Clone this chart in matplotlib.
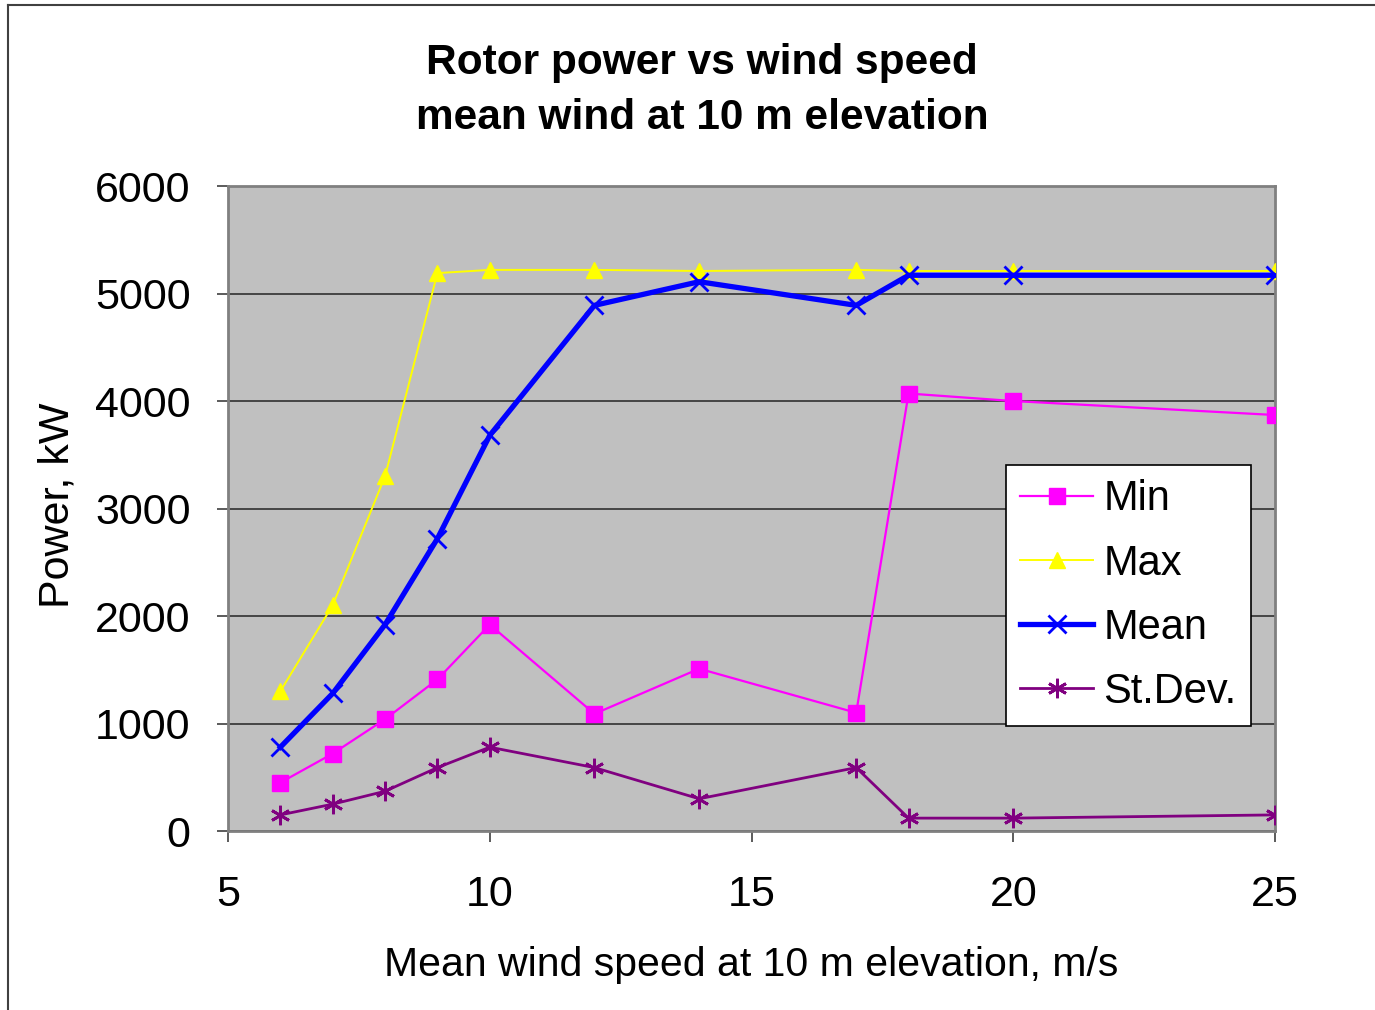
import matplotlib.pyplot as plt
from matplotlib.lines import Line2D

plt.rcParams['font.family'] = ['Liberation Sans', 'DejaVu Sans']

# wind speed, m/s
wind = [6, 7, 8, 9, 10, 12, 14, 17, 18, 20, 25]

# rotor power, kW
p_min = [450, 720, 1040, 1410, 1920, 1090, 1510, 1100, 4070, 4000, 3870]
p_max = [1300, 2100, 3300, 5190, 5220, 5220, 5210, 5220, 5210, 5210, 5210]
p_mean = [780, 1280, 1920, 2720, 3680, 4890, 5110, 4890, 5170, 5170, 5170]
p_std = [150, 250, 370, 590, 780, 590, 300, 590, 120, 120, 150]

fig = plt.figure(figsize=(13.75, 10.10), dpi=100)
ax = fig.add_axes([0.1658, 0.1772, 0.7615, 0.6386])
ax.set_facecolor('#C0C0C0')

ax.plot(wind, p_min, color='#FF00FF', lw=1.6, marker='s', ms=11,
        mec='#FF00FF', mfc='#FF00FF', label='Min', zorder=3)
ax.plot(wind, p_max, color='#FFFF00', lw=1.4, marker='^', ms=12,
        mec='#FFFF00', mfc='#FFFF00', label='Max', zorder=3)
ax.plot(wind, p_mean, color='#0000FF', lw=3.8, marker='x', ms=13, mew=2,
        mec='#0000FF', label='Mean', zorder=4)
ax.plot(wind, p_std, color='#800080', lw=2.0, marker=(6, 2, 0), ms=14, mew=2,
        mec='#800080', label='St.Dev.', zorder=3)

ax.set_xlim(5, 25)
ax.set_ylim(0, 6000)
ax.set_xticks([5, 10, 15, 20, 25])
ax.set_yticks(range(0, 6001, 1000))
ax.tick_params(axis='both', labelsize=31, direction='out', length=8,
               width=1.2, color='#404040')
ax.tick_params(axis='y', pad=19)
ax.tick_params(axis='x', pad=24)
ax.yaxis.grid(True, color='#303030', lw=1.2)
ax.set_axisbelow(True)
for s in ax.spines.values():
    s.set_color('#808080')
    s.set_linewidth(2)

ax.set_xlabel('Mean wind speed at 10 m elevation, m/s', fontsize=29.5, labelpad=22)
ax.set_ylabel('Power, kW', fontsize=31)
ax.yaxis.set_label_coords(-0.144, 0.505)

fig.text(0.5105, 0.938, 'Rotor power vs wind speed', ha='center', va='center',
         fontsize=30.5, fontweight='bold')
fig.text(0.5105, 0.883, 'mean wind at 10 m elevation', ha='center', va='center',
         fontsize=30.5, fontweight='bold')

leg = ax.legend(loc='upper left', bbox_to_anchor=(0.743, 0.567), fontsize=30,
                frameon=True, fancybox=False, framealpha=1, edgecolor='black',
                borderpad=0.34, labelspacing=0.58, handlelength=1.75,
                handletextpad=0.25, borderaxespad=0)
leg.get_frame().set_linewidth(1.2)

# chart border
fig.add_artist(Line2D([8 / 1375, 1.0], [1 - 5 / 1010, 1 - 5 / 1010],
                      transform=fig.transFigure, color='#404040', lw=1.5))
fig.add_artist(Line2D([8 / 1375, 8 / 1375], [0.0, 1 - 5 / 1010],
                      transform=fig.transFigure, color='#404040', lw=1.5))

fig.savefig('out.png', dpi=100)
